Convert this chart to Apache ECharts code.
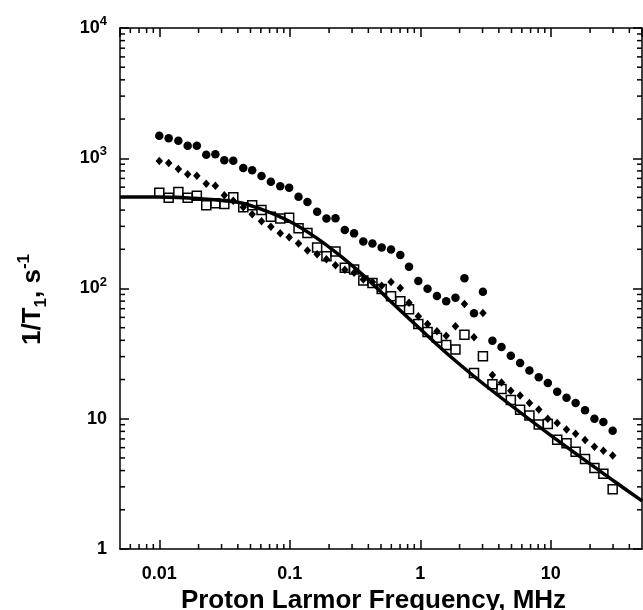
<!DOCTYPE html>
<html><head><meta charset="utf-8">
<script src="https://cdn.jsdelivr.net/npm/echarts@6/dist/echarts.min.js"></script>
<style>html,body{margin:0;padding:0;background:#fff}#c{width:643px;height:610px}</style>
</head><body><div id="c"></div>
<script>
const freq = [0.01, 0.0118, 0.014, 0.0165, 0.0194, 0.0229, 0.0269, 0.0315, 0.0369, 0.044, 0.0515, 0.0607, 0.0716, 0.0845, 0.0989, 0.1167, 0.1366, 0.162, 0.191, 0.224, 0.264, 0.311, 0.366, 0.43, 0.506, 0.597, 0.703, 0.82, 0.966, 1.137, 1.342, 1.58, 1.86, 2.18, 2.58, 3.02, 3.57, 4.19, 4.94, 5.82, 6.86, 8.09, 9.49, 11.2, 13.2, 15.5, 18.3, 21.6, 25.3, 29.8];
const circles = [1490,1422,1364,1248,1248,1065,1072,964,958,842,808,731,661,609,594,507,461,389,344,346,281,265,230,222,206,199,181,147,114,99.6,87.6,79.7,85.0,120,64.5,94.5,39.7,35.6,30.5,26.8,23.5,20.8,18.8,16.1,14.5,13.2,11.6,10.0,9.44,8.10];
const diamonds = [953,920,827,753,735,638,615,520,472,420,371,328,298,265,247,222,196,183,168,151,139,132,117,112,105,112,101,77.8,61.2,53.4,46.9,43.4,51.3,76.0,42.2,64.9,21.7,19.0,16.4,15.1,13.2,11.8,10.0,9.28,8.27,7.68,6.87,6.09,5.69,5.22];
const squares = [544,498,551,498,516,435,451,445,501,420,435,401,356,344,350,290,267,206,177,192,144,140,115,110,99.1,87.1,79.7,69.2,53.4,46.4,41.9,36.8,34.0,44.2,22.5,30.2,18.4,16.9,13.9,11.7,10.6,9.03,9.12,6.89,6.48,5.58,4.91,4.19,3.79,2.87];
const fitFreq = [0.005, 0.01, 0.02, 0.04, 0.063, 0.1, 0.158, 0.251, 0.398, 0.631, 1, 1.585, 3.16, 10, 31.6, 50];
const fitRate = [505, 504, 490, 459, 400, 327, 247, 174, 117, 75.0, 48.8, 32.0, 18.0, 7.45, 3.24, 2.34];
const xMin = 0.005, xMax = 50, yMin = 1, yMax = 10000;
const xMinorTicks = [0.006,0.007,0.008,0.009,0.02,0.03,0.04,0.05,0.06,0.07,0.08,0.09,0.2,0.3,0.4,0.5,0.6,0.7,0.8,0.9,2,3,4,5,6,7,8,9,20,30,40];
const yMinorTicks = [2,3,4,5,6,7,8,9,20,30,40,50,60,70,80,90,200,300,400,500,600,700,800,900,2000,3000,4000,5000,6000,7000,8000,9000];
const xTitle = 'Proton Larmor Frequency, MHz';
const FONT = '"Liberation Sans", Arial, sans-serif';

const zip = (xs, ys) => xs.map((x, i) => [x, ys[i]]);
const lineCol = '#000';
function axisBase(extra) {
  return Object.assign({
    type: 'log', logBase: 10,
    axisLine: { show: true, onZero: false, lineStyle: { color: lineCol, width: 1.5 } },
    axisTick: { show: true, inside: true, length: 9, lineStyle: { color: lineCol, width: 1.5 } },
    splitLine: { show: false },
    minorTick: { show: false }
  }, extra);
}
const minorData = xMinorTicks.map(v => [v, yMin, 0]).concat(yMinorTicks.map(v => [xMin, v, 1]));
const chart = echarts.init(document.getElementById('c'), null, { renderer: 'canvas' });
chart.setOption({
  animation: false,
  backgroundColor: '#fff',
  grid: { left: 120, right: 1, top: 28, bottom: 61, containLabel: false, outerBoundsMode: 'none' },
  xAxis: [
    axisBase({
      min: xMin, max: xMax, position: 'bottom',
      axisLabel: { show: true, margin: 16, showMinLabel: false, showMaxLabel: false,
        fontFamily: FONT, fontWeight: 'bold', fontSize: 18, color: '#000',
        formatter: v => String(v) },
      name: xTitle, nameLocation: 'middle', nameGap: 35,
      nameTextStyle: { fontFamily: FONT, fontWeight: 'bold', fontSize: 26, color: '#000', padding: [0, 15, 0, 0] }
    }),
    axisBase({ min: xMin, max: xMax, position: 'top', axisLabel: { show: false } })
  ],
  yAxis: [
    axisBase({
      min: yMin, max: yMax, position: 'left',
      axisLabel: { show: true, margin: 13, fontFamily: FONT, fontWeight: 'bold', fontSize: 18, color: '#000', lineHeight: 26,
        formatter: v => { const e = Math.round(Math.log10(v)); if (e === 0) return '1'; if (e === 1) return '10'; return '10{sup|' + e + '}'; },
        rich: { sup: { fontFamily: FONT, fontWeight: 'bold', fontSize: 13, color: '#000', lineHeight: 14, verticalAlign: 'top' } } },
      name: '{a|1/T}{sub|1}{a|, s}{sup|-1}', nameLocation: 'middle', nameGap: 70, nameRotate: 90,
      nameTextStyle: {
        padding: [0, 22, 0, 0],
        rich: {
          a: { fontFamily: FONT, fontWeight: 'bold', fontSize: 26, color: '#000', lineHeight: 34 },
          sub: { fontFamily: FONT, fontWeight: 'bold', fontSize: 17, color: '#000', lineHeight: 16, verticalAlign: 'bottom' },
          sup: { fontFamily: FONT, fontWeight: 'bold', fontSize: 17, color: '#000', lineHeight: 16, verticalAlign: 'top' }
        }
      }
    }),
    axisBase({ min: yMin, max: yMax, position: 'right', axisLabel: { show: false } })
  ],
  series: [
    {
      type: 'custom', name: 'minorTicks', data: minorData, clip: false, silent: true, z: 1,
      encode: { x: 0, y: 1 },
      renderItem: (params, api) => {
        const kind = api.value(2);
        const st = { stroke: lineCol, lineWidth: 1.5 };
        if (kind === 0) {
          const b = api.coord([api.value(0), yMin]);
          const t = api.coord([api.value(0), yMax]);
          return { type: 'group', children: [
            { type: 'line', shape: { x1: b[0], y1: b[1], x2: b[0], y2: b[1] - 5 }, style: st },
            { type: 'line', shape: { x1: t[0], y1: t[1], x2: t[0], y2: t[1] + 5 }, style: st }
          ] };
        }
        const l = api.coord([xMin, api.value(1)]);
        const r = api.coord([xMax, api.value(1)]);
        return { type: 'group', children: [
          { type: 'line', shape: { x1: l[0], y1: l[1], x2: l[0] + 5, y2: l[1] }, style: st },
          { type: 'line', shape: { x1: r[0], y1: r[1], x2: r[0] - 5, y2: r[1] }, style: st }
        ] };
      }
    },
    { type: 'scatter', name: 'circles', data: zip(freq, circles), symbol: 'circle', symbolSize: 8.5,
      itemStyle: { color: '#000', opacity: 1 }, z: 3 },
    { type: 'scatter', name: 'diamonds', data: zip(freq, diamonds), symbol: 'diamond', symbolSize: [7.5, 8.5],
      itemStyle: { color: '#000', opacity: 1 }, z: 3 },
    { type: 'scatter', name: 'squares', data: zip(freq, squares), symbol: 'rect', symbolSize: 9,
      itemStyle: { color: 'rgba(255,255,255,0)', borderColor: '#000', borderWidth: 1.5, opacity: 1 }, z: 3 },
    { type: 'line', name: 'fit', data: zip(fitFreq, fitRate), smooth: 0.3, showSymbol: false, symbol: 'none',
      lineStyle: { color: '#000', width: 3.5 }, z: 5 }
  ]
});
</script></body></html>
